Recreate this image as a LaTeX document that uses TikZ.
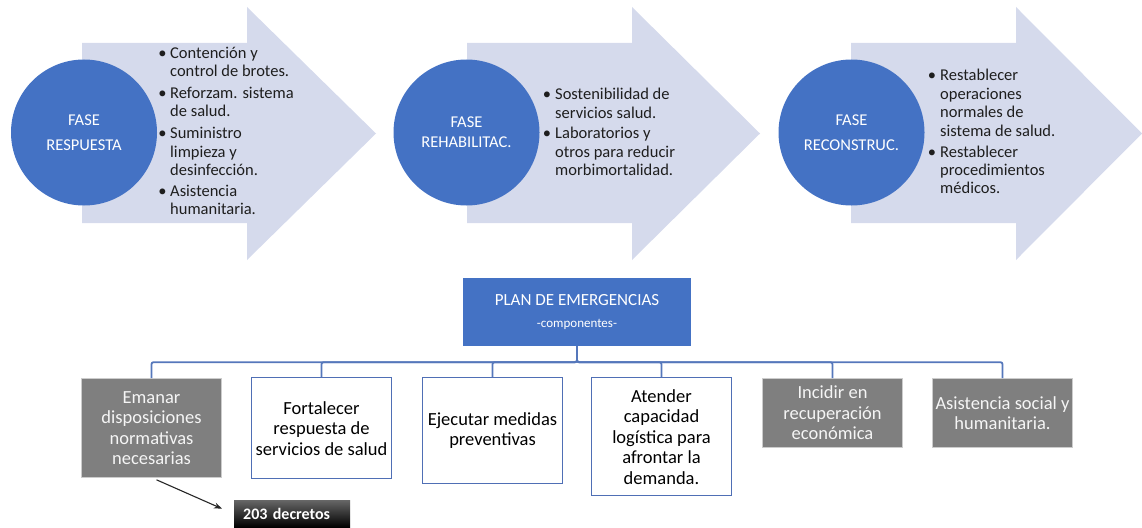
\documentclass[tikz,border=0pt]{standalone}
\usepackage{fontspec}
\setmainfont{Carlito}
\usetikzlibrary{calc,arrows.meta}
\definecolor{arrowfill}{HTML}{D5DAEC}
\definecolor{accent}{HTML}{4472C4}
\definecolor{grayfill}{HTML}{7F7F7F}
\definecolor{connc}{HTML}{5577BB}
\definecolor{boxblue}{HTML}{4F6FB5}
\definecolor{txt}{HTML}{1E1E1E}
\begin{document}
\begin{tikzpicture}[x=1pt,y=-1pt,
  phase/.style={circle, fill=accent, minimum size=146, inner sep=0, text=white, align=center, font=\fontsize{16.5}{20}\selectfont},
  atxt/.style={anchor=base west, inner sep=0, text=txt, font=\fontsize{16.5}{18}\selectfont},
  abul/.style={anchor=base, inner sep=0, text=txt, font=\fontsize{16.5}{18}\selectfont},
  comp/.style={anchor=north, minimum width=140, inner sep=0, align=center, font=\fontsize{18.5}{20.5}\selectfont},
  whitebox/.style={comp, draw=boxblue, line width=1.3, fill=white, text=black},
  graybox/.style={comp, draw=gray!40, line width=0.8, fill=grayfill, text=white!92!gray},
  connline/.style={draw=connc, line width=1.8, rounded corners=2},
  plannode/.style={fill=accent, minimum width=228, minimum height=68, inner sep=0, text=white, align=center, font=\fontsize{17}{20}\selectfont},
  decnode/.style={anchor=north west, text width=98, inner xsep=9, inner ysep=0, minimum height=27, align=left, top color=black!60, bottom color=black, text=white, font=\fontsize{16}{18}\selectfont\bfseries}
]
\useasboundingbox (0,0) rectangle (1142,527);

% big arrows
\fill[arrowfill] (82,43) -- (247,43) -- (247,7) -- (376,133.5) -- (247,260) -- (247,223) -- (82,223) -- cycle;
\fill[arrowfill] (467,43) -- (632,43) -- (632,7) -- (760,133.5) -- (632,260) -- (632,223) -- (467,223) -- cycle;
\fill[arrowfill] (851,43) -- (1016,43) -- (1016,7) -- (1142,133.5) -- (1016,260) -- (1016,223) -- (851,223) -- cycle;

% circles
\node[phase] (c1) at (84,132.5) {FASE\\[5pt]RESPUESTA};
\node[phase] (c2) at (466.5,132.5) {FASE\\REHABILITAC.};
\node[phase] (c3) at (851.5,132.5) {FASE\\[5pt]RECONSTRUC.};

% arrow 1 text
\node[abul] (b1a) at (162.5,59) {•};
\node[abul] (b1b) at (162.5,98) {•};
\node[abul] (b1c) at (162.5,138) {•};
\node[abul] (b1d) at (162.5,196) {•};
\node[atxt] (t1a) at (170,59) {Contención y};
\node[atxt] (t1b) at (170,77) {control de brotes.};
\node[atxt] (t1c) at (170,98) {Reforzam. sistema};
\node[atxt] (t1d) at (170,116) {de salud.};
\node[atxt] (t1e) at (170,138) {Suministro};
\node[atxt] (t1f) at (170,157) {limpieza y};
\node[atxt] (t1g) at (170,175) {desinfección.};
\node[atxt] (t1h) at (170,196) {Asistencia};
\node[atxt] (t1i) at (170,214) {humanitaria.};

% arrow 2 text
\node[abul] (b2a) at (547,99) {•};
\node[abul] (b2b) at (547,138) {•};
\node[atxt] (t2a) at (555,99) {Sostenibilidad de};
\node[atxt] (t2b) at (555,118) {servicios salud.};
\node[atxt] (t2c) at (555,138) {Laboratorios y};
\node[atxt] (t2d) at (555,157) {otros para reducir};
\node[atxt] (t2e) at (555,175) {morbimortalidad.};

% arrow 3 text
\node[abul] (b3a) at (932,80) {•};
\node[abul] (b3b) at (932,157) {•};
\node[atxt] (t3a) at (940,80) {Restablecer};
\node[atxt] (t3b) at (940,99) {operaciones};
\node[atxt] (t3c) at (940,117) {normales de};
\node[atxt] (t3d) at (940,136) {sistema de salud.};
\node[atxt] (t3e) at (940,157) {Restablecer};
\node[atxt] (t3f) at (940,175) {procedimientos};
\node[atxt] (t3g) at (940,193) {médicos.};

% plan
\node[plannode] (plan) at (577,312) {PLAN DE EMERGENCIAS\\[2pt]{\fontsize{13}{14}\selectfont -componentes-}};

% components
\node[graybox, minimum height=99] (e1) at (151.5,378) {Emanar\\disposiciones\\normativas\\necesarias};
\node[whitebox, minimum height=101] (e2) at (321.5,377) {Fortalecer\\respuesta de\\servicios de salud};
\node[whitebox, minimum height=106] (e3) at (492.5,377) {Ejecutar medidas\\preventivas};
\node[whitebox, minimum height=118] (e4) at (661.5,377) {Atender\\capacidad\\logística para\\afrontar la\\demanda.};
\node[graybox, minimum height=69] (e5) at (832.5,378) {Incidir en\\recuperación\\económica};
\node[graybox, minimum height=69] (e6) at (1002.5,378) {Asistencia social y\\humanitaria.};

% connectors
\foreach \c in {e1,e2,e3,e4,e5,e6}{
  \draw[connline] (plan.south) -- ++(0,16) -| (\c.north);
}

% decretos
\node[decnode] (dec) at (234,500) {203 decretos};
\draw[-{Stealth[length=8,width=6]}, line width=1.1, black!85] ($(e1.south)+(5,2)$) -- ($(dec.west)+(-12,-5)$);
\end{tikzpicture}
\end{document}
